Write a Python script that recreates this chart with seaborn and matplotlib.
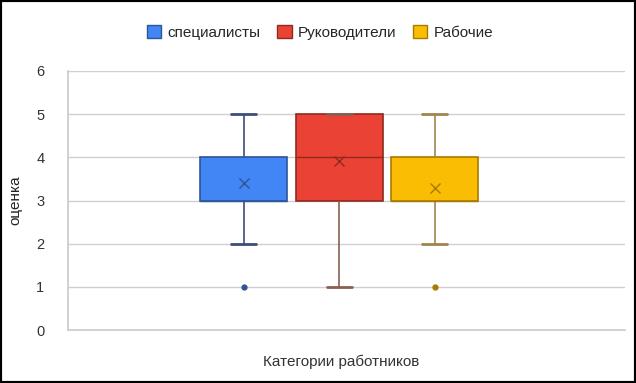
import numpy as np
import pandas as pd
import matplotlib
matplotlib.use("Agg")
import matplotlib.pyplot as plt
from matplotlib.patches import Patch
import seaborn as sns

# Data: rating distribution per group (counts of each score)
scores = [1, 2, 3, 4, 5]
groups = ["специалисты", "Руководители", "Рабочие"]
counts_specialists = [1, 1, 9, 7, 2]
counts_managers = [1, 0, 3, 3, 5]
counts_workers = [1, 1, 9, 6, 1]
category_label = "Категории работников"
y_label = "оценка"
y_ticks = [0, 1, 2, 3, 4, 5, 6]

fills = ["#4285F4", "#EA4335", "#FBBC04"]
edges = ["#2F5597", "#8E2A1E", "#A67C00"]
whisk = ["#3E4E7A", "#8A6052", "#A08550"]

rows = []
for g, cnts in zip(groups, [counts_specialists, counts_managers, counts_workers]):
    for s, c in zip(scores, cnts):
        rows += [{"cat": "", "group": g, "score": s}] * c
df = pd.DataFrame(rows)

sns.set_theme(style="white")
plt.rcParams["font.family"] = ["Liberation Sans", "DejaVu Sans"]

fig = plt.figure(figsize=(6.36, 3.83), dpi=100)
ax = fig.add_axes([0.107, 0.138, 0.876, 0.677])

for i, g in enumerate(groups):
    sub = df[df["group"] == g]
    sns.boxplot(data=sub, x="cat", y="score", hue="group", hue_order=groups,
                palette=dict(zip(groups, fills)), dodge=True, width=0.514, gap=0.09,
                linecolor=whisk[i], linewidth=1.2, showmeans=True, whis=1.5,
                saturation=1, legend=False, ax=ax,
                meanprops=dict(marker="x", markeredgecolor=edges[i], markersize=7,
                               markeredgewidth=1.0),
                flierprops=dict(marker="o", markerfacecolor=edges[i],
                                markeredgecolor=edges[i], markersize=3.5),
                capprops=dict(linewidth=2.0),
                medianprops=dict(color=edges[i], linewidth=1.0),
                boxprops=dict(edgecolor=edges[i]))

# narrow the whisker caps
cap_half = 0.0225
for ln in ax.lines:
    if abs(ln.get_linewidth() - 2.0) < 1e-6:
        xd = np.asarray(ln.get_xdata(), dtype=float)
        if xd.size == 2:
            c = xd.mean()
            ln.set_xdata([c - cap_half, c + cap_half])

ax.set_ylim(0, 6)
ax.set_xlim(-0.487, 0.513)
ax.set_yticks(y_ticks)
ax.set_yticklabels([str(t) for t in y_ticks], fontsize=10.5, color="#333333")
ax.tick_params(axis="y", length=0, pad=17)
ax.set_xticks([])
ax.set_xlabel(category_label, fontsize=11, color="#333333")
ax.xaxis.set_label_coords((341 - 68) / 557, -(362 - 330) / 259)
ax.xaxis.label.set_va("center")
ax.set_ylabel(y_label, fontsize=11, color="#222222")
ax.yaxis.set_label_coords(-(68 - 15) / 557, (330 - 200) / 259)
ax.yaxis.label.set_va("center")
ax.yaxis.grid(True, color="#d0d0d0", linewidth=1)
ax.set_axisbelow(True)
for s in ["top", "right"]:
    ax.spines[s].set_visible(False)
ax.spines["left"].set_color("#cccccc")
ax.spines["bottom"].set_color("#cccccc")

handles = [Patch(facecolor=f, edgecolor=e, label=g) for f, e, g in zip(fills, edges, groups)]
fig.legend(handles=handles, loc="center", bbox_to_anchor=(0.503, 0.916), ncol=3,
           frameon=False, fontsize=11, handlelength=0.95, handleheight=0.95,
           handletextpad=0.4, columnspacing=1.1)

fig.patches.append(plt.Rectangle((0, 0), 1, 1, transform=fig.transFigure,
                                 fill=False, edgecolor="black", linewidth=3))
fig.savefig("out.png", dpi=100)
